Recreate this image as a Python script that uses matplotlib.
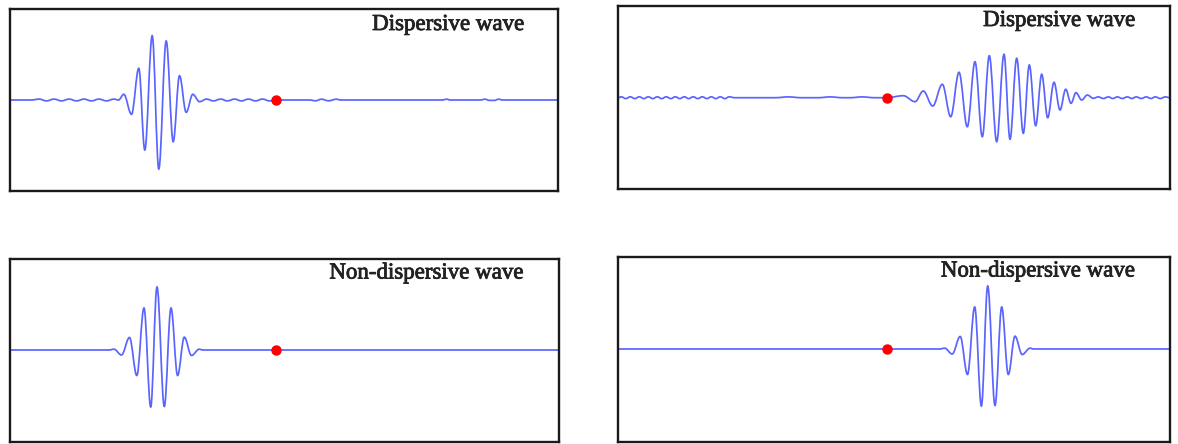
import numpy as np
import matplotlib.pyplot as plt
import matplotlib.patheffects as pe
from matplotlib.path import Path
from matplotlib.patches import PathPatch

# wave extremes (x in px from box left, y in px above the rest line)
tl_x = [0, 22, 29.5, 37, 44.5, 52, 59.5, 67, 74.5, 82, 89.5, 97, 104.5, 109,
        114.3, 122, 129.3, 135.3, 142.7, 149.3, 156.7, 163.7, 170, 176.7, 183.3, 190,
        197, 204, 211, 218, 225, 232, 239, 246, 253, 260, 266.5,
        300, 306, 312, 319, 327, 331,
        433, 437, 441, 471, 475.5, 480, 485, 489, 493, 548.5]
tl_y = [0, 0, 0.9, -0.9, 0.9, -0.9, 0.9, -0.9, 0.9, -0.9, 0.9, -0.9, 0.9, 0,
        5.7, -14.3, 31.7, -50, 64.3, -69, 59, -41.7, 24.3, -12.3, 5.7, -1.7,
        0.9, -0.9, 0.9, -0.9, 0.9, -0.9, 0.9, -0.9, 0.9, -0.9, 0,
        0, -0.8, 0.8, -0.8, 0.8, 0,
        0, 0.8, 0, 0, 0.8, -0.4, -0.4, 0.8, 0, 0]

tr_x = [0, 3, 7.5, 12, 16.5, 21, 25.5, 30, 34.5, 39, 43.5, 48, 52.5, 57, 61.5,
        66, 70.5, 75, 79.5, 84, 88.5, 93, 97.5, 102, 106.5, 111, 116,
        157, 170, 183, 200, 212, 224, 232, 244, 256, 268.4,
        285, 296.7, 305, 314.4, 324, 332.4, 340.7, 349, 356.7, 364, 371, 378.4,
        385.7, 391.7, 398.4, 405, 411, 417.4, 423.4, 429.4, 435.7, 441.7, 447.4,
        452.7, 457.7, 463.4, 469, 475,
        480, 485, 490, 494.5, 499, 504, 509, 513.5, 518, 523, 528, 532.5, 537,
        542, 547, 551.7]
tr_y = [0, 0.9, -0.9, 0.9, -0.9, 0.9, -0.9, 0.9, -0.9, 0.9, -0.9, 0.9, -0.9, 0.9, -0.9,
        0.9, -0.9, 0.9, -0.9, 0.9, -0.9, 0.9, -0.9, 0.9, -0.9, 0.9, 0,
        0, 0.8, 0, 0, 0.8, 0, 0, 0.8, 0, 0,
        2, -4, 6.7, -8.3, 13.4, -19, 25.4, -29, 36, -39, 42, -44,
        43.4, -41.6, 39.4, -35.6, 32.7, -28, 23.4, -20, 15.4, -12.3, 8.4,
        -5.6, 5, -2.3, 2.7, -0.6,
        0.8, -0.8, 0.8, -0.8, 0.8, -0.8, 0.8, -0.8, 0.8, -0.8, 0.8, -0.8, 0.8,
        -0.8, 0.8, 0]

# non-dispersive packet: same shape in both bottom panels
nd_dx = [-48, -43, -35.5, -27.5, -20.2, -13, -6.3, 0, 7.3, 14, 20.6, 27.3, 34.5, 42.3, 46]
nd_y = [0, 0.8, -5, 12.5, -25.5, 42, -57, 63, -56.5, 42, -25.5, 12.8, -5.5, 0.8, 0]
nd_center = [147.5, 369.4]

dot_x = [266.5, 268.4, 266.5, 268.4]
titles = ["Dispersive wave", "Dispersive wave", "Non-dispersive wave", "Non-dispersive wave"]

W, H = 1178, 444
# box: left, top, right, bottom, rest line (pixels)
boxes = [(9.5, 8.7, 558, 191, 100),
         (618.3, 5.7, 1170, 189, 97.7),
         (9.5, 258.7, 559, 442, 350),
         (618.3, 256.7, 1170, 441.7, 349)]
title_pos = [(524, 30), (1135, 26), (523.5, 278.5), (1135, 276.5)]

line_col = "#5a64ff"


def wave_path(xs, ys, k=0.36):
    # cubic bezier through the extremes, flat tangents at each extreme
    verts = [(xs[0], ys[0])]
    codes = [Path.MOVETO]
    for i in range(len(xs) - 1):
        dx = xs[i + 1] - xs[i]
        verts += [(xs[i] + k * dx, ys[i]), (xs[i + 1] - k * dx, ys[i + 1]), (xs[i + 1], ys[i + 1])]
        codes += [Path.CURVE4] * 3
    return Path(verts, codes)


fig = plt.figure(figsize=(W / 100, H / 100), dpi=100, facecolor="white")

waves = [(tl_x, tl_y), (tr_x, tr_y)]
for c in nd_center:
    waves.append(([0] + [c + d for d in nd_dx] + [551.7], [0] + nd_y + [0]))

for i, (l, t, r, b, base) in enumerate(boxes):
    ax = fig.add_axes([l / W, 1 - b / H, (r - l) / W, (b - t) / H])
    ax.set_xlim(0, r - l)
    ax.set_ylim(-(b - base), base - t)
    ax.set_xticks([])
    ax.set_yticks([])
    for s in ax.spines.values():
        s.set_linewidth(1.7)
        s.set_color("#1a1a1a")
    xs, ys = waves[i]
    ax.add_patch(PathPatch(wave_path(xs, ys), fill=False, edgecolor=line_col, linewidth=1.25))
    ax.plot([dot_x[i]], [0], "o", color="#ff0000", markersize=6.5, zorder=5)
    tx, ty = title_pos[i]
    fig.text(tx / W, 1 - ty / H, titles[i], ha="right", va="baseline",
             family="Liberation Serif", fontsize=16.5, color="#222222",
             path_effects=[pe.withStroke(linewidth=0.6, foreground="#222222")])

plt.savefig("out.png", dpi=100)
